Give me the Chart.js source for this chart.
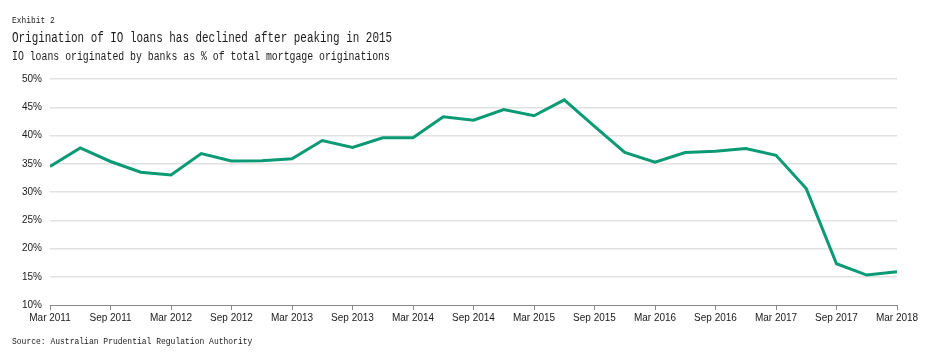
<!DOCTYPE html>
<html>
<head>
<meta charset="utf-8">
<script src="https://cdn.jsdelivr.net/npm/chart.js@4/dist/chart.umd.min.js"></script>
<style>
  html, body { margin: 0; padding: 0; background: #fff; }
  #wrap { position: relative; width: 931px; height: 356px; overflow: hidden; }
  canvas { position: absolute; left: 0; top: 0; }
  .t { position: absolute; left: 12px; font-family: "Liberation Mono", "DejaVu Sans Mono", monospace; color: #1a1a1a; white-space: nowrap; transform-origin: 0 50%; }
  #exh { top: 16px; font-size: 9px; transform: scaleX(0.88); }
  #title { top: 30px; font-size: 14px; transform: scaleX(0.78); }
  #sub { top: 50px; font-size: 12px; transform: scaleX(0.82); }
  #src { top: 337px; font-size: 9px; transform: scaleX(0.89); }
</style>
</head>
<body>
<div id="wrap">
  <canvas id="c" width="931" height="356"></canvas>
  <div class="t" id="exh">Exhibit 2</div>
  <div class="t" id="title">Origination of IO loans has declined after peaking in 2015</div>
  <div class="t" id="sub">IO loans originated by banks as % of total mortgage originations</div>
  <div class="t" id="src">Source: Australian Prudential Regulation Authority</div>
</div>
<script>
// Quarterly categories, Mar 2011 to Mar 2018
const quarters = [
  "Mar 2011","Jun 2011","Sep 2011","Dec 2011",
  "Mar 2012","Jun 2012","Sep 2012","Dec 2012",
  "Mar 2013","Jun 2013","Sep 2013","Dec 2013",
  "Mar 2014","Jun 2014","Sep 2014","Dec 2014",
  "Mar 2015","Jun 2015","Sep 2015","Dec 2015",
  "Mar 2016","Jun 2016","Sep 2016","Dec 2016",
  "Mar 2017","Jun 2017","Sep 2017","Dec 2017",
  "Mar 2018"
];
// IO loans as % of total mortgage originations
const ioShare = [
  34.5, 37.8, 35.4, 33.5,
  33.0, 36.8, 35.5, 35.55,
  35.9, 39.1, 37.9, 39.6,
  39.6, 43.3, 42.7, 44.6,
  43.5, 46.3, 41.6, 37.0,
  35.3, 37.0, 37.2, 37.7,
  36.5, 30.6, 17.3, 15.3,
  15.9
];
const yTicks = [10, 15, 20, 25, 30, 35, 40, 45, 50];

const points = ioShare.map((v, i) => ({ x: i, y: v }));

new Chart(document.getElementById('c'), {
  type: 'line',
  data: {
    datasets: [{
      data: points,
      borderColor: '#0b9a74',
      borderWidth: 3,
      pointRadius: 0,
      tension: 0,
      fill: false
    }]
  },
  options: {
    responsive: false,
    animation: false,
    events: [],
    layout: { padding: { left: 0, right: 34, top: 79, bottom: 26 } },
    plugins: { legend: { display: false }, tooltip: { enabled: false } },
    scales: {
      x: {
        type: 'linear',
        min: 0,
        max: quarters.length - 1,
        afterBuildTicks: (scale) => {
          scale.ticks = [];
          for (let i = 0; i < quarters.length; i += 2) scale.ticks.push({ value: i });
        },
        afterFit: (scale) => { scale.height = 25; },
        ticks: {
          callback: (v) => quarters[v] || '',
          maxRotation: 0,
          autoSkip: false,
          padding: 2,
          color: '#1a1a1a',
          font: { family: '"Liberation Sans", Arial, sans-serif', size: 10 }
        },
        grid: {
          drawOnChartArea: false,
          drawTicks: true,
          tickLength: 5,
          color: '#8a8a8a',
          lineWidth: 1
        },
        border: { display: true, color: '#8a8a8a', width: 1 }
      },
      y: {
        min: 10,
        max: 50,
        afterBuildTicks: (scale) => { scale.ticks = yTicks.map(v => ({ value: v })); },
        afterFit: (scale) => { scale.width = 50; },
        ticks: {
          callback: (v) => v + '%',
          padding: 8,
          color: '#1a1a1a',
          font: { family: '"Liberation Sans", Arial, sans-serif', size: 10 }
        },
        grid: {
          drawTicks: false,
          color: (ctx) => ctx.tick && ctx.tick.value === 10 ? 'rgba(0,0,0,0)' : '#e2e2e2',
          lineWidth: 1.5
        },
        border: { display: false }
      }
    }
  }
});
</script>
</body>
</html>
